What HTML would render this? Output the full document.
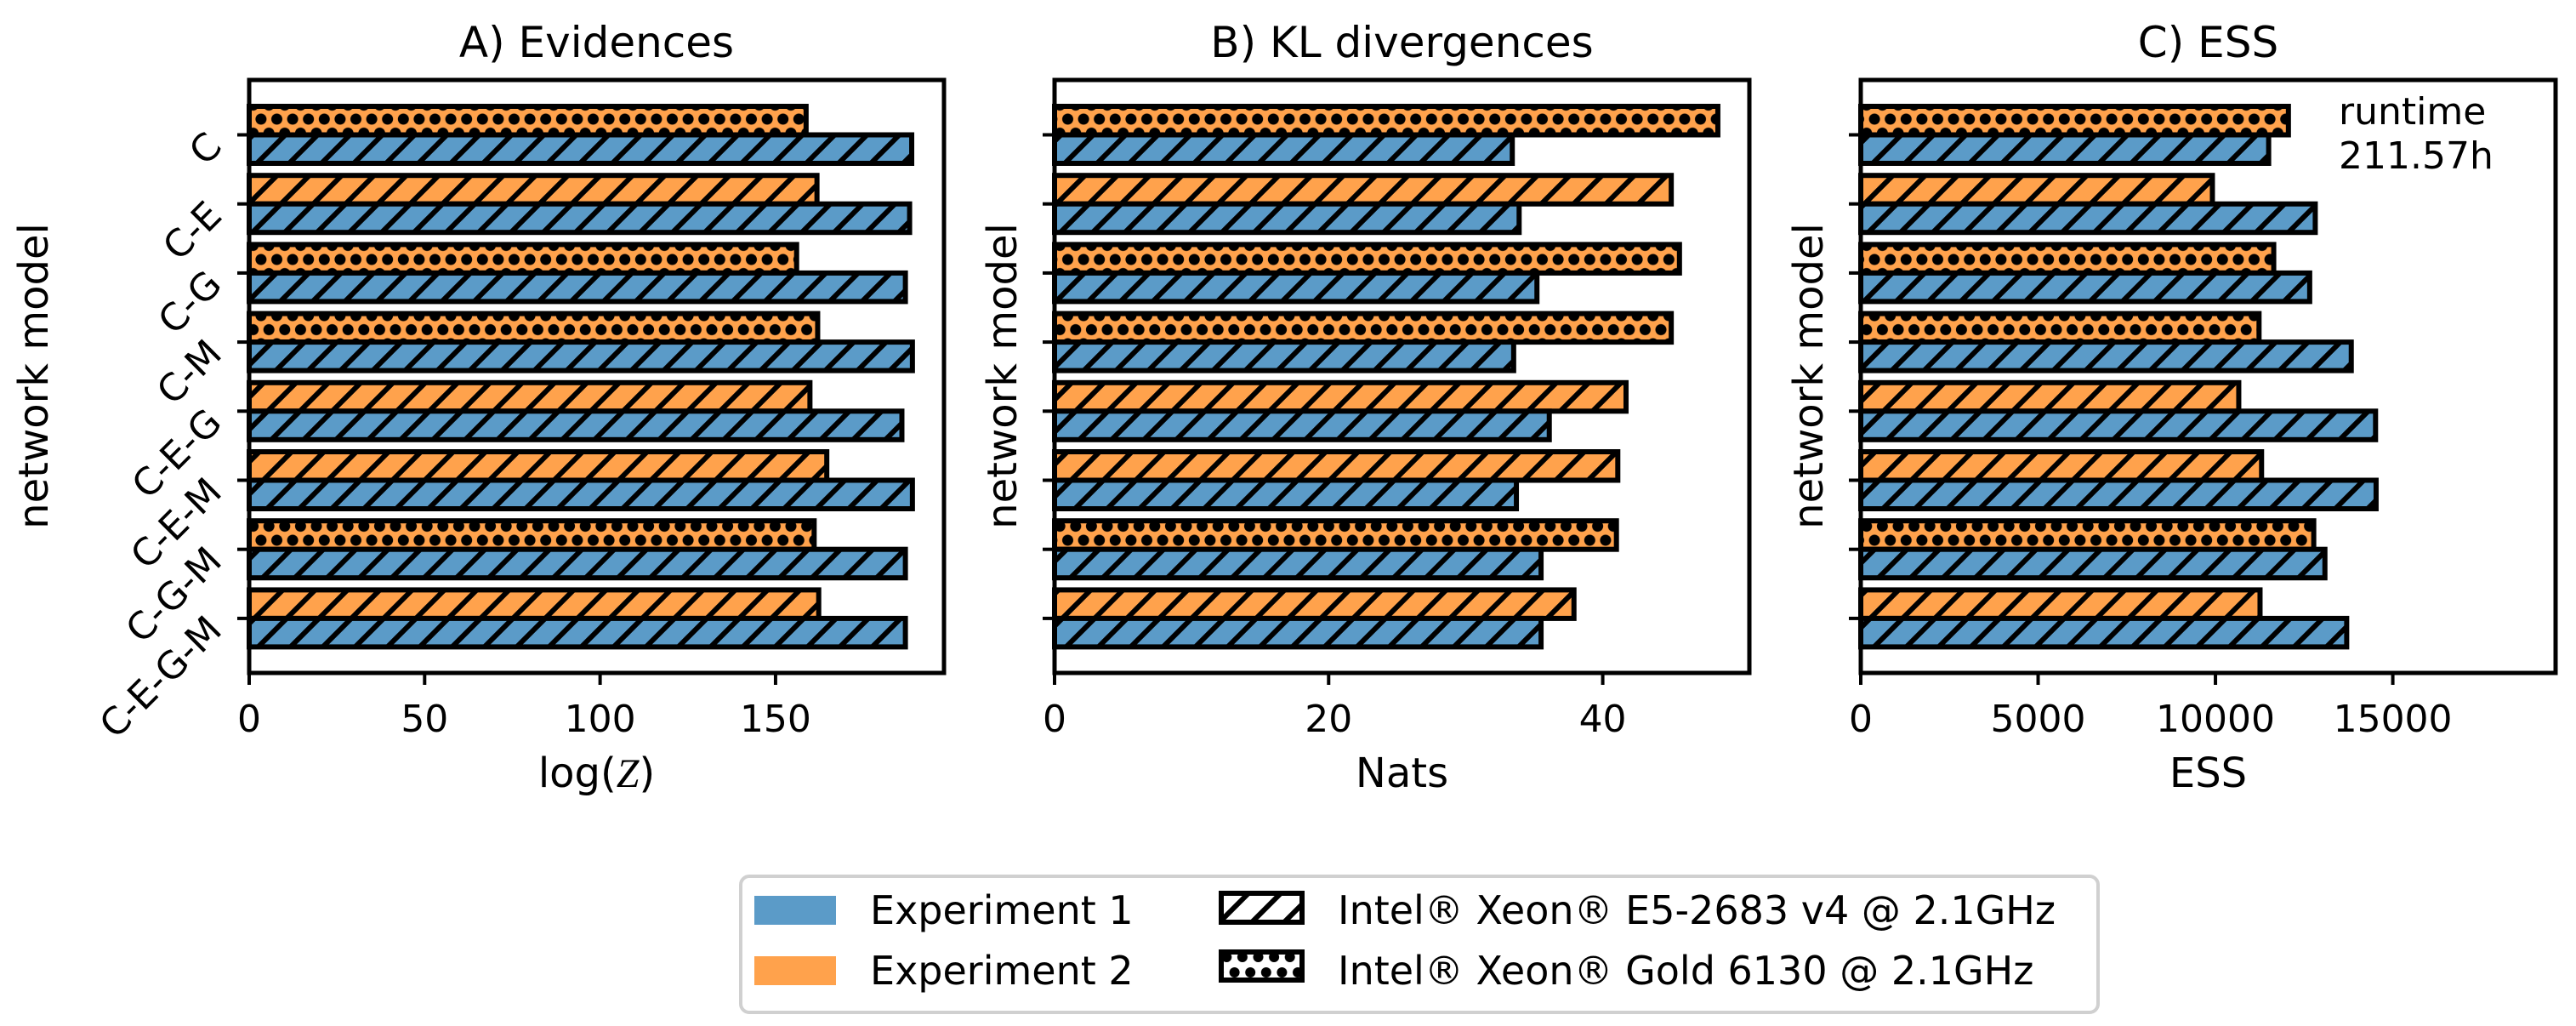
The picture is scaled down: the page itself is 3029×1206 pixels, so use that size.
<!DOCTYPE html>
<html><head><meta charset="utf-8">
<style>
html,body{margin:0;padding:0;background:#fff;}
svg{display:block;font-family:"DejaVu Sans","Liberation Sans",sans-serif;}
</style></head>
<body>
<svg id="chart" width="3029" height="1206" viewBox="0 0 3029 1206" xmlns="http://www.w3.org/2000/svg">
<defs>
<pattern id="hatchB" patternUnits="userSpaceOnUse" width="38" height="38">
<rect width="38" height="38" fill="#5b9bc8"/>
<path d="M-9,9 L9,-9 M0,38 L38,0 M29,47 L47,29" stroke="#000" stroke-width="6"/>
</pattern>
<pattern id="hatchO" patternUnits="userSpaceOnUse" width="38" height="38">
<rect width="38" height="38" fill="#ffa24c"/>
<path d="M-9,9 L9,-9 M0,38 L38,0 M29,47 L47,29" stroke="#000" stroke-width="6"/>
</pattern>
<pattern id="dotsO" patternUnits="userSpaceOnUse" width="18.6" height="33" y="131.75">
<rect width="18.6" height="33" fill="#ffa24c"/>
<circle cx="9.3" cy="8.25" r="6.5" fill="#000"/>
<circle cx="0" cy="24.75" r="6.5" fill="#000"/>
<circle cx="18.6" cy="24.75" r="6.5" fill="#000"/>
</pattern>
<pattern id="legHatch" patternUnits="userSpaceOnUse" width="38" height="38" x="1433" y="1047">
<rect width="38" height="38" fill="#fff"/>
<path d="M-9,9 L9,-9 M0,38 L38,0 M29,47 L47,29" stroke="#000" stroke-width="6"/>
</pattern>
<pattern id="legDots" patternUnits="userSpaceOnUse" width="18.6" height="36" x="1433" y="1116">
<rect width="18.6" height="36" fill="#fff"/>
<circle cx="9.3" cy="9" r="6" fill="#000"/>
<circle cx="0" cy="27" r="6" fill="#000"/>
<circle cx="18.6" cy="27" r="6" fill="#000"/>
</pattern>
</defs>
<g id="panels"></g>

<g>
<rect x="871" y="1030" width="1596" height="160" rx="10" fill="#fff" stroke="#d0d0d0" stroke-width="4"/>
<rect x="887" y="1053" width="96" height="34" fill="#5b9bc8"/>
<text x="1023" y="1086" font-size="46">Experiment 1</text>
<rect x="887" y="1124" width="96" height="34" fill="#ffa24c"/>
<text x="1023" y="1157" font-size="46">Experiment 2</text>
<rect x="1436" y="1050" width="95" height="34" fill="url(#legHatch)" stroke="#000" stroke-width="6"/>
<text x="1573" y="1086" font-size="46">Intel® Xeon® E5-2683 v4 @ 2.1GHz</text>
<rect x="1436" y="1119" width="95" height="33" fill="url(#legDots)" stroke="#000" stroke-width="6"/>
<text x="1573" y="1157" font-size="46">Intel® Xeon® Gold 6130 @ 2.1GHz</text>
</g>
</svg>
<script>
const categories = ["C","C-E","C-G","C-M","C-E-G","C-E-M","C-G-M","C-E-G-M"];
const dotted = [true,false,true,true,false,false,true,false];
const evidExp1 = [188.8,188.2,187,189,186,189,187,187];
const evidExp2 = [158.7,161.8,156,162,159.8,164.6,161,162.3];
const klExp1 = [33.4,33.9,35.2,33.5,36.1,33.7,35.5,35.5];
const klExp2 = [48.4,45.0,45.6,45.0,41.7,41.1,41.0,37.9];
const essExp1 = [11500,12814,12657,13829,14514,14529,13086,13700];
const essExp2 = [12057,9914,11643,11229,10657,11300,12771,11257];
const evidTicks = [0,50,100,150];
const klTicks = [0,20,40];
const essTicks = [0,5000,10000,15000];
const evidMax = 198;
const klMax = 50.7;
const essMax = 19590;

const NS = "http://www.w3.org/2000/svg";
const root = document.getElementById('panels');
function mk(tag, attrs, parent){
  const e = document.createElementNS(NS, tag);
  for (const k in attrs) e.setAttribute(k, attrs[k]);
  parent.appendChild(e);
  return e;
}
const TOP = 94, BOT = 791, TICK0 = 158.5, STEP = 81.2, BH = 33.5;
function yScale(i){ return TICK0 + i*STEP; }

function panel(key, left, title, xlabel, ticks, xmax, v1, v2, ylabelX, rotLabels){
  const W = 817;
  const xs = v => left + v / xmax * W;
  const g = mk('g', {}, root);
  
  
  const t = mk('text', {x: left + W/2, y: 67, 'font-size': 50, 'text-anchor': 'middle'}, g);
  
  
  t.textContent = title;
  for (let i = 0; i < categories.length; i++){
    const yc = yScale(i);
    const r2 = mk('rect', {x: xs(0), y: yc - BH, width: xs(v2[i]) - xs(0), height: BH,
      fill: dotted[i] ? 'url(#dotsO)' : 'url(#hatchO)', stroke: '#000', 'stroke-width': 6}, g);
    
    
    const r1 = mk('rect', {x: xs(0), y: yc, width: xs(v1[i]) - xs(0), height: BH,
      fill: 'url(#hatchB)', stroke: '#000', 'stroke-width': 6}, g);
    
    
    const tk = mk('line', {x1: left - 14, x2: left, y1: yc, y2: yc, stroke: '#000', 'stroke-width': 4}, g);
    
    
    if (rotLabels){
      const lx = left - 30, ly = yc + 16;
      const lt = mk('text', {x: lx, y: ly, 'font-size': 44, 'text-anchor': 'end', transform: 'rotate(-45 ' + lx + ' ' + ly + ')'}, g);
      
      
      lt.textContent = categories[i];
    }
  }
  const fr = mk('rect', {x: left, y: TOP, width: W, height: BOT - TOP, fill: 'none', stroke: '#000', 'stroke-width': 5}, g);
  
  
  ticks.forEach(tv => {
    const x = xs(tv);
    const l = mk('line', {x1: x, x2: x, y1: BOT, y2: BOT + 14, stroke: '#000', 'stroke-width': 4}, g);
    
    
    const tl = mk('text', {x: x, y: 860, 'font-size': 44, 'text-anchor': 'middle'}, g);
    
    
    tl.textContent = String(tv);
  });
  const xl = mk('text', {x: left + W/2, y: 925, 'font-size': 48, 'text-anchor': 'middle'}, g);
  
  
  xl.innerHTML = xlabel;
  const yl = mk('text', {x: ylabelX, y: 442, 'font-size': 48, 'text-anchor': 'middle', transform: 'rotate(-90 ' + ylabelX + ' 442)'}, g);
  
  
  yl.textContent = 'network model';
  return g;
}
panel('evidences', 293, 'A) Evidences', 'log(<tspan font-style="italic" font-family="Liberation Serif, serif">Z</tspan>)', evidTicks, evidMax, evidExp1, evidExp2, 56, true);
panel('kl', 1240, 'B) KL divergences', 'Nats', klTicks, klMax, klExp1, klExp2, 1195, false);
const gc = panel('ess', 2188, 'C) ESS', 'ESS', essTicks, essMax, essExp1, essExp2, 2143, false);
const rt1 = mk('text', {x: 2750, y: 146, 'font-size': 44}, gc);


rt1.textContent = 'runtime';
const rt2 = mk('text', {x: 2750, y: 198, 'font-size': 44}, gc);


rt2.textContent = '211.57h';
</script>
</body></html>
